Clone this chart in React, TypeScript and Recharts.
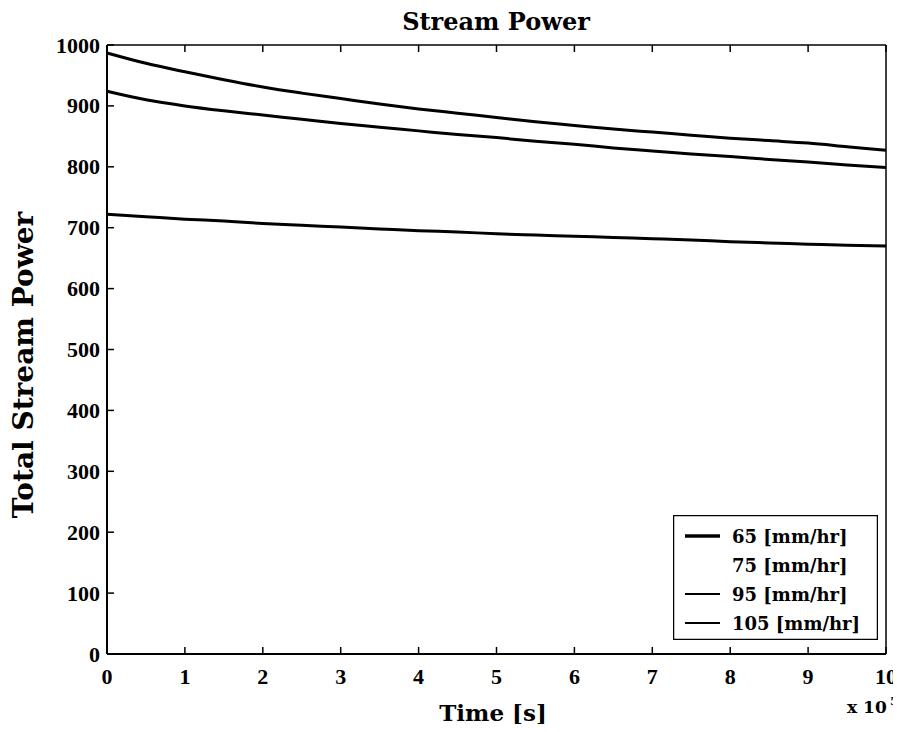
import { LineChart, Line, XAxis, YAxis, Legend, Customized } from 'recharts';

const time = [0, 0.5, 1, 1.5, 2, 2.5, 3, 3.5, 4, 4.5, 5, 5.5, 6, 6.5, 7, 7.5, 8, 8.5, 9, 9.5, 10];
const rate65 = [722, 718, 714, 711, 707, 704, 701, 698, 695, 693, 690, 688, 686, 684, 682, 680, 677, 675, 673, 671, 670];
const rate75 = [790, 785, 780, 776, 772, 768, 764, 760, 756, 752, 748, 745, 741, 738, 734, 731, 728, 724, 721, 717, 713];
const rate95 = [924, 910, 900, 892, 885, 878, 871, 865, 859, 853, 848, 842, 837, 831, 826, 821, 817, 812, 808, 803, 799];
const rate105 = [987, 970, 956, 943, 931, 921, 912, 903, 895, 888, 881, 874, 868, 862, 857, 852, 847, 843, 839, 833, 827];

const xTicks = [0, 1, 2, 3, 4, 5, 6, 7, 8, 9, 10];
const yTicks = [0, 100, 200, 300, 400, 500, 600, 700, 800, 900, 1000];

const seriesNames = ['65 [mm/hr]', '75 [mm/hr]', '95 [mm/hr]', '105 [mm/hr]'];

const data = time.map((t, i) => ({
  t,
  r65: rate65[i],
  r75: rate75[i],
  r95: rate95[i],
  r105: rate105[i],
}));

const serif = '"DejaVu Serif", serif';
const tickFontFamily = '"Liberation Serif", serif';
const TICK_LEN = 7;

// matlab style: tick marks point into the plot box
const BottomTick = ({ x, y, payload }: any) => (
  <g>
    <path d={`M${x},${y}V${y - TICK_LEN}`} stroke="#000" strokeWidth={1.5} fill="none" />
    <text x={x} y={y + 22} textAnchor="middle" dominantBaseline="central" fontFamily={tickFontFamily} fontWeight="bold" fontSize={22} fill="#000">
      {payload.value}
    </text>
  </g>
);

const LeftTick = ({ x, y, payload }: any) => (
  <g>
    <path d={`M${x},${y}H${x + TICK_LEN}`} stroke="#000" strokeWidth={1.5} fill="none" />
    <text x={x - 7} y={y} textAnchor="end" dominantBaseline="central" fontFamily={tickFontFamily} fontWeight="bold" fontSize={22} fill="#000">
      {payload.value}
    </text>
  </g>
);

const TopTick = ({ x, y }: any) => (
  <path d={`M${x},${y}V${y + TICK_LEN}`} stroke="#000" strokeWidth={1.5} fill="none" />
);

const RightTick = ({ x, y }: any) => (
  <path d={`M${x},${y}H${x - TICK_LEN}`} stroke="#000" strokeWidth={1.5} fill="none" />
);

// legend drawn like the matlab box
const LegendBox = () => {
  const widths = [3.5, 0, 2, 2];
  return (
    <svg width={205} height={125} style={{ display: 'block' }}>
      <rect x={0.5} y={0.5} width={204} height={124} fill="#fff" stroke="#000" strokeWidth={1.5} />
      {seriesNames.map((name, i) => {
        const cy = 21 + i * 29;
        return (
          <g key={name}>
            {widths[i] > 0 && <line x1={12} x2={47} y1={cy} y2={cy} stroke="#000" strokeWidth={widths[i]} />}
            <text x={59} y={cy} dominantBaseline="central" fontFamily={serif} fontWeight="bold" fontSize={18} fill="#000">
              {name}
            </text>
          </g>
        );
      })}
    </svg>
  );
};

const Labels = () => (
  <g fontFamily={serif} fontWeight="bold" fill="#000">
    <text x={488} y={13} textAnchor="middle" dominantBaseline="central" fontSize={24}>Stream Power</text>
    <text x={485} y={704} textAnchor="middle" dominantBaseline="central" fontSize={23}>Time [s]</text>
    <text transform="translate(15,357) rotate(-90)" textAnchor="middle" dominantBaseline="central" fontSize={28}>
      Total Stream Power
    </text>
    <text x={839} y={705} fontSize={17}>x 10</text>
    <text x={882} y={697} fontSize={11}>5</text>
  </g>
);

export default function App() {
  return (
    <LineChart width={893} height={716} data={data} margin={{ top: 36, right: 14, left: 0, bottom: 0 }}>
      <XAxis
        dataKey="t"
        type="number"
        domain={[0, 10]}
        ticks={xTicks}
        height={70}
        tickLine={false}
        tickSize={0}
        tickMargin={0}
        tick={<BottomTick />}
        stroke="#000"
        strokeWidth={2}
      />
      <XAxis
        xAxisId="top"
        orientation="top"
        dataKey="t"
        type="number"
        domain={[0, 10]}
        ticks={xTicks}
        height={1}
        tickLine={false}
        tickSize={0}
        tickMargin={0}
        tick={<TopTick />}
        stroke="#000"
        strokeWidth={1.5}
      />
      <YAxis
        type="number"
        domain={[0, 1000]}
        ticks={yTicks}
        width={99}
        tickLine={false}
        tickSize={0}
        tickMargin={0}
        tick={<LeftTick />}
        stroke="#000"
        strokeWidth={2}
        interval={0}
      />
      <YAxis
        yAxisId="right"
        orientation="right"
        type="number"
        domain={[0, 1000]}
        ticks={yTicks}
        width={1}
        tickLine={false}
        tickSize={0}
        tickMargin={0}
        tick={<RightTick />}
        stroke="#000"
        strokeWidth={1.5}
        interval={0}
      />
      <Line dataKey="r65" name={seriesNames[0]} type="monotone" stroke="#000" strokeWidth={3} dot={false} isAnimationActive={false} />
      <Line dataKey="r75" name={seriesNames[1]} type="monotone" stroke="#fff" strokeWidth={3} dot={false} isAnimationActive={false} />
      <Line dataKey="r95" name={seriesNames[2]} type="monotone" stroke="#000" strokeWidth={3} dot={false} isAnimationActive={false} />
      <Line dataKey="r105" name={seriesNames[3]} type="monotone" stroke="#000" strokeWidth={3} dot={false} isAnimationActive={false} />
      <Legend
        layout="vertical"
        align="center"
        verticalAlign="middle"
        content={<LegendBox />}
        wrapperStyle={{ left: 665, top: 507, width: 205, height: 125 }}
      />
      <Customized component={<Labels />} />
    </LineChart>
  );
}
